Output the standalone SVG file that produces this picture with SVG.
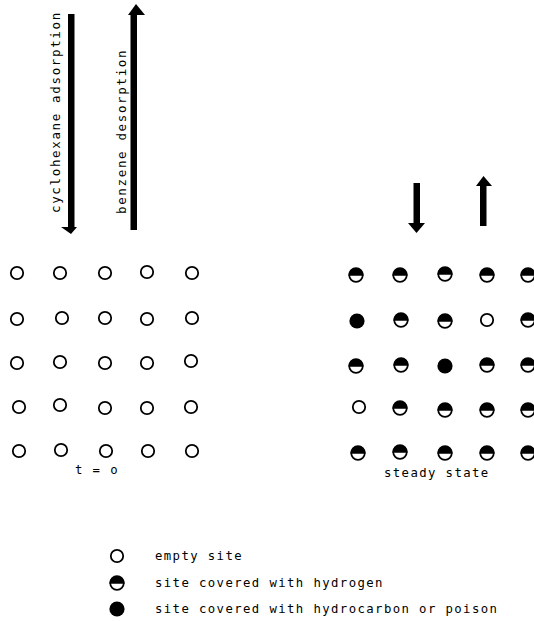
<svg xmlns="http://www.w3.org/2000/svg" xmlns:xlink="http://www.w3.org/1999/xlink" width="534" height="621" viewBox="0 0 534 621">
<style>
  text { font-family: "DejaVu Sans Mono", "Liberation Mono", monospace; fill: #000; }
  .lbl { font-size: 12.3px; letter-spacing: 1.4px; }
  .vlbl { font-size: 12.5px; letter-spacing: 1.65px; }
  .shaft { fill: #000; }
</style>
<defs>
  <g id="empty"><circle r="6.2" fill="#fff" stroke="#000" stroke-width="1.8"/></g>
  <g id="half"><circle r="6.8" fill="#fff" stroke="#000" stroke-width="1.7"/><path d="M-7.6,0.8 A7.6,7.6 0 0 1 7.6,0.8 Z" fill="#000"/></g>
  <g id="full"><circle r="7.6" fill="#000"/></g>
</defs>
<rect width="534" height="621" fill="#fff"/>

<g id="connectors">
  <g id="arrow-adsorption">
    <rect class="shaft" x="68" y="14" width="6.5" height="214"/>
    <polygon points="61,227 77,227 71,234" fill="#000"/>
  </g>
  <g id="arrow-desorption">
    <rect class="shaft" x="130.5" y="13" width="6.5" height="217"/>
    <polygon points="128,15 145,15 136,4" fill="#000"/>
  </g>
  <g id="arrow-down-small">
    <rect class="shaft" x="413.5" y="183" width="6.5" height="41"/>
    <polygon points="408,223 425,223 416.5,233" fill="#000"/>
  </g>
  <g id="arrow-up-small">
    <rect class="shaft" x="480" y="185" width="6.5" height="41"/>
    <polygon points="476,186 492,186 483.5,176" fill="#000"/>
  </g>
</g>

<g id="labels-vertical">
  <text class="vlbl" transform="translate(60,213) rotate(-90)">cyclohexane adsorption</text>
  <text class="vlbl" transform="translate(126,214) rotate(-90)">benzene desorption</text>
</g>

<g id="grid-initial">
  <use xlink:href="#empty" x="17" y="273"/><use xlink:href="#empty" x="60" y="273"/><use xlink:href="#empty" x="105" y="273"/><use xlink:href="#empty" x="147" y="272"/><use xlink:href="#empty" x="192" y="273"/>
  <use xlink:href="#empty" x="17" y="319"/><use xlink:href="#empty" x="62" y="318"/><use xlink:href="#empty" x="105" y="318"/><use xlink:href="#empty" x="147" y="319"/><use xlink:href="#empty" x="192" y="318"/>
  <use xlink:href="#empty" x="17" y="363"/><use xlink:href="#empty" x="60" y="362"/><use xlink:href="#empty" x="105" y="363"/><use xlink:href="#empty" x="147" y="363"/><use xlink:href="#empty" x="191" y="361"/>
  <use xlink:href="#empty" x="19" y="407"/><use xlink:href="#empty" x="60" y="405"/><use xlink:href="#empty" x="105" y="408"/><use xlink:href="#empty" x="147" y="408"/><use xlink:href="#empty" x="191" y="407"/>
  <use xlink:href="#empty" x="19" y="451"/><use xlink:href="#empty" x="61" y="450"/><use xlink:href="#empty" x="106" y="451"/><use xlink:href="#empty" x="148" y="451"/><use xlink:href="#empty" x="192" y="451"/>
  <text class="lbl" x="75" y="474">t = o</text>
</g>

<g id="grid-steady">
  <use xlink:href="#half" x="356" y="275"/><use xlink:href="#half" x="400" y="275"/><use xlink:href="#half" x="445" y="274"/><use xlink:href="#half" x="487" y="275"/><use xlink:href="#half" x="528" y="275"/>
  <use xlink:href="#full" x="357" y="321"/><use xlink:href="#half" x="401" y="320"/><use xlink:href="#half" x="445" y="321"/><use xlink:href="#empty" x="487" y="320"/><use xlink:href="#half" x="528" y="320"/>
  <use xlink:href="#half" x="356" y="366"/><use xlink:href="#half" x="401" y="365"/><use xlink:href="#full" x="445" y="366"/><use xlink:href="#half" x="487" y="365"/><use xlink:href="#half" x="528" y="365"/>
  <use xlink:href="#empty" x="359" y="407"/><use xlink:href="#half" x="400" y="408"/><use xlink:href="#half" x="445" y="410"/><use xlink:href="#half" x="487" y="410"/><use xlink:href="#half" x="528" y="410"/>
  <use xlink:href="#half" x="358" y="453"/><use xlink:href="#half" x="400" y="452"/><use xlink:href="#half" x="445" y="453"/><use xlink:href="#half" x="487" y="453"/><use xlink:href="#half" x="528" y="453"/>
  <text class="lbl" x="384" y="477">steady state</text>
</g>

<g id="legend">
  <g id="legend-empty"><use xlink:href="#empty" x="117" y="556"/><text class="lbl" x="155" y="560">empty site</text></g>
  <g id="legend-hydrogen"><use xlink:href="#half" x="117" y="583"/><text class="lbl" x="155" y="587">site covered with hydrogen</text></g>
  <g id="legend-poison"><use xlink:href="#full" x="117" y="609"/><text class="lbl" x="155" y="613">site covered with hydrocarbon or poison</text></g>
</g>
</svg>
